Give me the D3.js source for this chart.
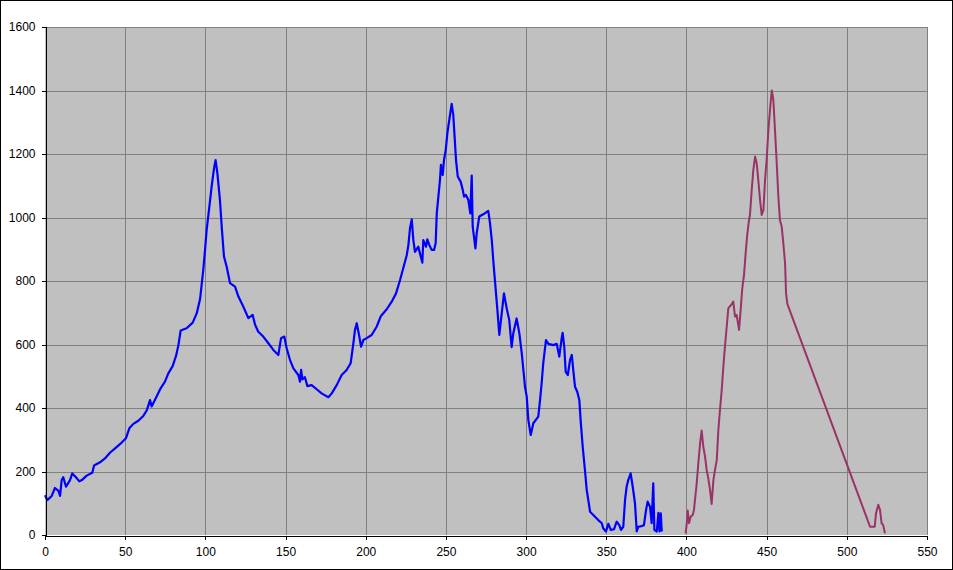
<!DOCTYPE html>
<html>
<head>
<meta charset="utf-8">
<script src="https://cdn.jsdelivr.net/npm/d3@7"></script>
<style>
  html, body { margin: 0; padding: 0; background: #fff; }
  svg { display: block; }
</style>
</head>
<body>
<svg id="chart" width="953" height="570"></svg>
<script>
const xTicks = [0, 50, 100, 150, 200, 250, 300, 350, 400, 450, 500, 550];
const yTicks = [0, 200, 400, 600, 800, 1000, 1200, 1400, 1600];

const blueX = [0, 1.4, 4.2, 6.2, 8.3, 9.4, 10.4, 11.4, 13.1, 15.6, 17, 19.3, 21.4, 23, 26, 29.5, 30.6, 34.3, 37.4, 40.5, 43.7, 47.8, 50.5, 52.6, 55.1, 58.2, 61.3, 63.4, 65.5, 66.5, 69.6, 72.1, 74.8, 76.9, 79.6, 81.7, 83.2, 84.6, 88.3, 92.1, 94.6, 96.7, 98.7, 99.8, 100.8, 102.5, 103.9, 105.4, 106.4, 107.5, 109.1, 110.2, 111.6, 113.3, 115.4, 118.5, 120.6, 123.7, 126.8, 129.5, 131, 133, 136.1, 139.3, 142.4, 145.5, 147.2, 149.2, 150.7, 152.8, 154.9, 158, 159, 159.7, 160.5, 162.1, 163.6, 166.3, 169.4, 172.5, 176.7, 178.8, 181.9, 185, 188.1, 190.6, 192.3, 193.3, 194.4, 196, 197.1, 198.5, 200.6, 203.7, 206.8, 209.5, 213.1, 216.2, 218.9, 221.4, 223.4, 225.6, 226.6, 227.6, 228.7, 229.7, 230.7, 232.8, 233.8, 235.3, 235.9, 237.6, 238.4, 239.7, 241.1, 242.6, 243.6, 244.3, 245.3, 246.3, 246.9, 248, 248.8, 249.9, 250.9, 252.1, 253.6, 254.6, 255.3, 256.3, 257.4, 259.2, 260.5, 261.3, 262.5, 264, 265.2, 266.1, 266.7, 267.5, 268.4, 269.2, 270.8, 273.3, 276.4, 277.5, 278.6, 279.6, 280.8, 282.1, 283.3, 284.8, 286.2, 287.9, 289.5, 291, 292, 294.1, 295.8, 297.3, 298.7, 299.3, 300.4, 301.4, 302.9, 304.5, 307.6, 308.7, 309.7, 310.7, 312.4, 313.9, 317, 319.1, 320.7, 322.2, 322.8, 323.8, 324.7, 326, 327.4, 328.5, 329.4, 330.5, 331.9, 333.2, 334, 335.3, 336.7, 337.8, 338.8, 339.9, 341.9, 345, 347.2, 348.1, 349.8, 351.3, 352.8, 354.8, 356.5, 358.1, 359.2, 360.6, 361.7, 362.7, 363.7, 365.2, 366.5, 367.9, 369, 370, 372.1, 373.5, 374.8, 375.8, 377.3, 378.3, 379.3, 380, 381.5, 382.5, 383.2, 384, 384.6];
const blueY = [125, 110, 123, 148, 140, 123, 173, 182, 152, 173, 194, 182, 169, 173, 187, 196, 219, 229, 241, 259, 273, 291, 305, 336, 350, 360, 375, 392, 425, 405, 436, 462, 483, 509, 532, 564, 598, 644, 651, 669, 698, 743, 835, 898, 961, 1034, 1097, 1155, 1181, 1139, 1055, 971, 877, 845, 793, 782, 751, 719, 683, 693, 662, 640, 625, 604, 583, 567, 620, 625, 588, 551, 525, 504, 483, 520, 490, 497, 469, 472, 459, 446, 434, 446, 472, 504, 520, 541, 604, 646, 667, 625, 593, 614, 620, 630, 656, 690, 711, 735, 761, 803, 840, 882, 913, 966, 994, 929, 892, 908, 887, 858, 929, 908, 931, 913, 898, 898, 919, 1013, 1066, 1118, 1166, 1134, 1181, 1213, 1265, 1307, 1358, 1323, 1265, 1181, 1129, 1113, 1087, 1066, 1071, 1055, 1013, 1132, 971, 940, 903, 950, 1003, 1010, 1021, 982, 929, 861, 788, 709, 630, 698, 761, 714, 677, 592, 635, 682, 635, 572, 500, 467, 436, 362, 315, 352, 373, 425, 478, 541, 614, 602, 598, 602, 562, 620, 637, 593, 514, 504, 551, 567, 520, 467, 451, 425, 362, 278, 205, 142, 110, 73, 63, 47, 37, 21, 11, 35, 16, 18, 42, 31, 16, 26, 110, 152, 173, 194, 152, 100, 11, 26, 28, 31, 79, 105, 89, 37, 163, 16, 11, 70, 11, 68, 11];

const redX = [399.5, 400.2, 400.8, 401.6, 402.7, 403.9, 404.7, 405.3, 406.4, 407.4, 408.5, 409.5, 410.5, 411.6, 412.6, 413.6, 414.7, 415.7, 416.8, 417.8, 418.9, 419.9, 420.9, 422, 423, 424, 425.1, 426.1, 427.2, 428, 429.2, 430.3, 431.3, 432.8, 433.8, 434.8, 435.9, 436.9, 437.9, 439, 439.6, 440.7, 441.7, 442.8, 443.8, 444.8, 445.9, 446.9, 448, 449, 450, 451.1, 452.1, 453.2, 454.2, 455.2, 456.3, 457.3, 458.3, 459.4, 460.4, 461.5, 462.1, 462.9, 514.5, 517.4, 518.2, 519.6, 520.7, 521.7, 522.7, 523.8];
const redY = [5, 37, 77, 37, 58, 63, 79, 110, 163, 226, 289, 329, 278, 247, 205, 179, 142, 98, 173, 205, 236, 331, 394, 457, 530, 593, 656, 714, 721, 725, 735, 688, 693, 646, 709, 777, 819, 887, 945, 992, 1008, 1087, 1150, 1192, 1171, 1118, 1055, 1008, 1024, 1118, 1181, 1276, 1339, 1400, 1370, 1276, 1171, 1066, 992, 971, 919, 856, 761, 728, 26, 26, 68, 95, 79, 37, 31, 5];

const svg = d3.select("#chart");
const W = 953, H = 570;
const mLeft = 45, mRight = 927, mTop = 27, mBottom = 535;

svg.append("rect").attr("x", 0.5).attr("y", 0.5).attr("width", W - 1).attr("height", H - 1)
  .attr("fill", "#fff").attr("stroke", "#000").attr("stroke-width", 1);

const x = d3.scaleLinear().domain([0, 550]).range([mLeft, mRight]);
const y = d3.scaleLinear().domain([0, 1600]).range([mBottom, mTop]);

svg.append("rect").attr("x", mLeft).attr("y", mTop).attr("width", mRight - mLeft).attr("height", mBottom - mTop)
  .attr("fill", "#C0C0C0");

const grid = svg.append("g").attr("stroke", "#808080").attr("stroke-width", 1).attr("shape-rendering", "crispEdges");
grid.selectAll("line.h").data(yTicks.filter(d => d > 0)).join("line").attr("class", "h")
  .attr("x1", mLeft).attr("x2", mRight).attr("y1", d => Math.round(y(d)) + 0.5).attr("y2", d => Math.round(y(d)) + 0.5);
grid.selectAll("line.v").data(xTicks.filter(d => d > 0)).join("line").attr("class", "v")
  .attr("y1", mTop).attr("y2", mBottom).attr("x1", d => Math.round(x(d)) + 0.5).attr("x2", d => Math.round(x(d)) + 0.5);

const line = d3.line().x(d => x(d[0])).y(d => y(d[1]));
const blue = blueX.map((v, i) => [v, blueY[i]]);
const red = redX.map((v, i) => [v, redY[i]]);

svg.append("path").datum(blue).attr("d", line).attr("fill", "none")
  .attr("stroke", "#0000FF").attr("stroke-width", 2.2).attr("stroke-linejoin", "round");
svg.append("path").datum(red).attr("d", line).attr("fill", "none")
  .attr("stroke", "#993366").attr("stroke-width", 2).attr("stroke-linejoin", "round");

const yAxis = svg.append("g").attr("transform", `translate(${mLeft + 0.5},0)`)
  .call(d3.axisLeft(y).tickValues(yTicks).tickSize(4).tickPadding(6).tickFormat(d3.format("d")));
const xAxis = svg.append("g").attr("transform", `translate(0,${mBottom + 0.5})`)
  .call(d3.axisBottom(x).tickValues(xTicks).tickSize(4).tickPadding(8).tickFormat(d3.format("d")));

[yAxis, xAxis].forEach(g => {
  g.select(".domain").attr("stroke", "#000").attr("shape-rendering", "crispEdges");
  g.selectAll(".tick line").attr("stroke", "#000").attr("shape-rendering", "crispEdges");
  g.selectAll("text").attr("fill", "#000").style("font-family", "'Liberation Sans', Arial, sans-serif").style("font-size", "12px");
});
</script>
</body>
</html>
